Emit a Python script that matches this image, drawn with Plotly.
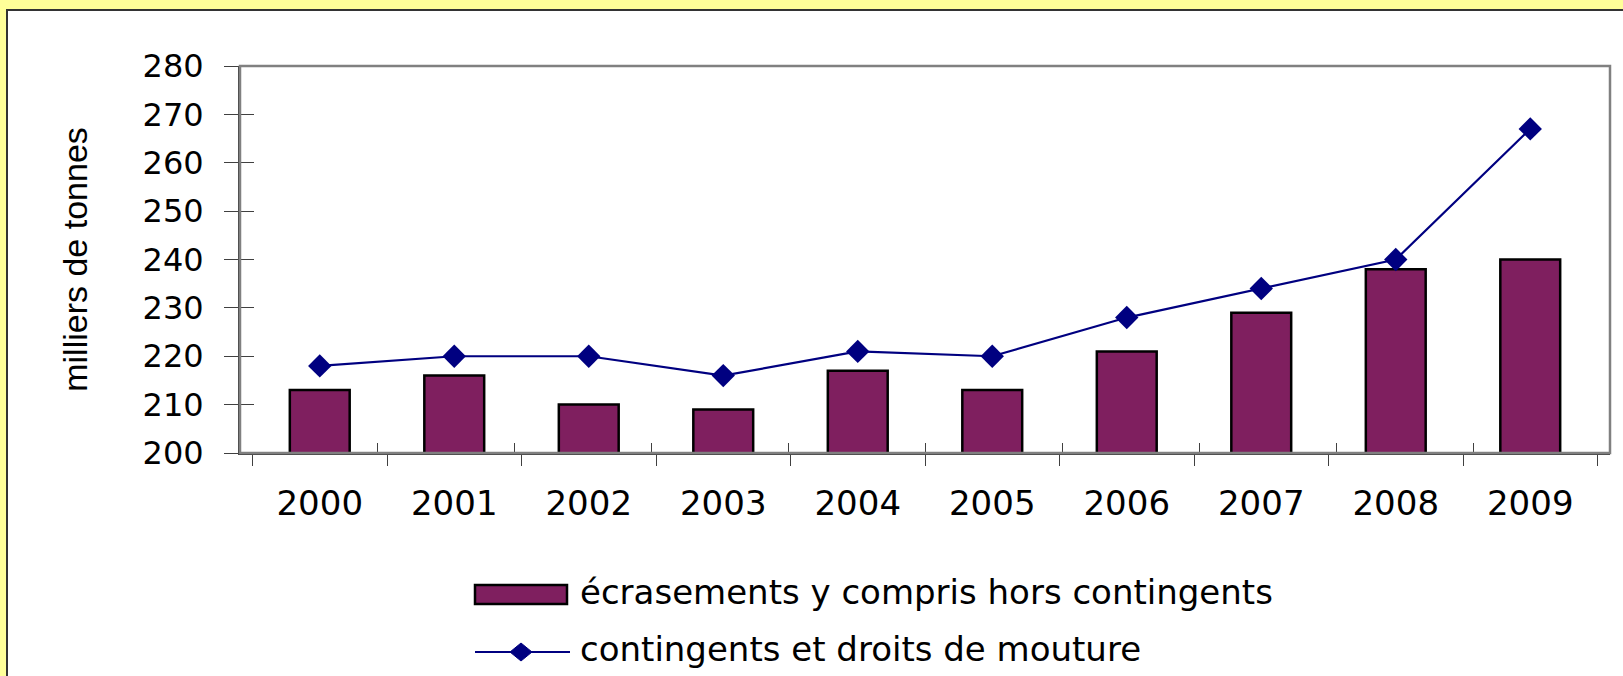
import plotly.graph_objects as go

years = ["2000", "2001", "2002", "2003", "2004", "2005", "2006", "2007", "2008", "2009"]
ecrasements = [213, 216, 210, 209, 217, 213, 221, 229, 238, 240]
contingents = [218, 220, 220, 216, 221, 220, 228, 234, 240, 267]
ytick_vals = [200, 210, 220, 230, 240, 250, 260, 270, 280]
name_bar = "écrasements y compris hors contingents"
name_line = "contingents et droits de mouture"
y_title = "milliers de tonnes"

W, H = 1623, 676
L, R, T, B = 240, 1610, 66, 453  # plot area in pixels

def px(x):
    return (x - L) / (R - L)

def py(y):
    return (B - y) / (B - T)

FONT = "DejaVu Sans, Arial, sans-serif"
TITLE_FONT = "Liberation Sans, Arial, sans-serif"
BAR_COLOR = "#7F1F5F"
LINE_COLOR = "#000080"

fig = go.Figure()
fig.add_trace(go.Bar(
    x=years, y=ecrasements, name=name_bar,
    marker=dict(color=BAR_COLOR, line=dict(color="black", width=2.5)),
    showlegend=False,
))
fig.add_trace(go.Scatter(
    x=years, y=contingents, name=name_line, mode="lines+markers",
    line=dict(color=LINE_COLOR, width=2.2),
    marker=dict(symbol="diamond", size=18, color=LINE_COLOR),
    showlegend=False, cliponaxis=False,
))
# invisible helper trace for the inner-tick axes
fig.add_trace(go.Scatter(x=[None], y=[None], xaxis="x2", yaxis="y2",
                         showlegend=False, hoverinfo="skip"))

fig.update_layout(
    width=W, height=H,
    margin=dict(l=L, r=W - R, t=T, b=H - B, pad=0),
    paper_bgcolor="#FFFF99",
    plot_bgcolor="#C0C0C0",
    font=dict(family=FONT, size=32, color="black"),
    bargap=0.555,
    showlegend=False,
    xaxis=dict(
        type="category", tickson="boundaries", ticks="outside", ticklen=11,
        tickwidth=1, tickcolor="#404040", showline=True, linecolor="#404040",
        linewidth=1.5, showgrid=False, ticklabelstandoff=19,
        tickfont=dict(size=34),
    ),
    yaxis=dict(
        range=[200, 280], tickvals=ytick_vals, ticks="outside", ticklen=14,
        tickwidth=1, tickcolor="#404040", showline=True, linecolor="#404040",
        linewidth=2, showgrid=False, zeroline=False, ticklabelstandoff=14,
        tickfont=dict(size=32),
        title=dict(text=y_title, font=dict(size=34, family=TITLE_FONT), standoff=45),
    ),
    xaxis2=dict(
        overlaying="x", range=[-0.5, 9.5], tickvals=[i - 0.5 for i in range(len(years) + 1)],
        ticks="inside", ticklen=10, tickwidth=1, tickcolor="#404040",
        showticklabels=False, showgrid=False, zeroline=False, showline=False,
    ),
    yaxis2=dict(
        overlaying="y", range=[200, 280], tickvals=ytick_vals, ticks="inside",
        ticklen=14, tickwidth=1, tickcolor="#404040", showticklabels=False,
        showgrid=False, zeroline=False, showline=False, anchor="x2",
    ),
)

shapes = []
# white inner panel
shapes.append(dict(type="rect", xref="paper", yref="paper", layer="below",
                   x0=px(7), x1=px(W + 20), y0=py(10), y1=py(H + 20),
                   fillcolor="white", line=dict(color="#333333", width=2)))
# plot area border (top/right grey)
shapes.append(dict(type="rect", xref="paper", yref="paper", layer="above",
                   x0=0, x1=1, y0=0, y1=1, line=dict(color="#808080", width=2.5)))
# custom legend: bar swatch
shapes.append(dict(type="rect", xref="paper", yref="paper",
                   x0=px(475), x1=px(567), y0=py(604), y1=py(585),
                   fillcolor=BAR_COLOR, line=dict(color="black", width=2.5)))
# custom legend: line with diamond
shapes.append(dict(type="line", xref="paper", yref="paper",
                   x0=px(475), x1=px(570), y0=py(652), y1=py(652),
                   line=dict(color=LINE_COLOR, width=2.2)))
shapes.append(dict(type="path", xref="paper", yref="paper",
                   xsizemode="pixel", ysizemode="pixel",
                   xanchor=px(521), yanchor=py(652),
                   path="M -11 0 L 0 9 L 11 0 L 0 -9 Z",
                   fillcolor=LINE_COLOR, line=dict(color=LINE_COLOR, width=1)))
fig.update_layout(shapes=shapes)

fig.add_annotation(xref="paper", yref="paper", x=px(578), y=py(592),
                   text=name_bar, showarrow=False, xanchor="left", yanchor="middle",
                   font=dict(size=34))
fig.add_annotation(xref="paper", yref="paper", x=px(578), y=py(649),
                   text=name_line, showarrow=False, xanchor="left", yanchor="middle",
                   font=dict(size=34))

fig.write_html("out.html", post_script="document.body.style.margin='0';",
               config={"displayModeBar": False})
